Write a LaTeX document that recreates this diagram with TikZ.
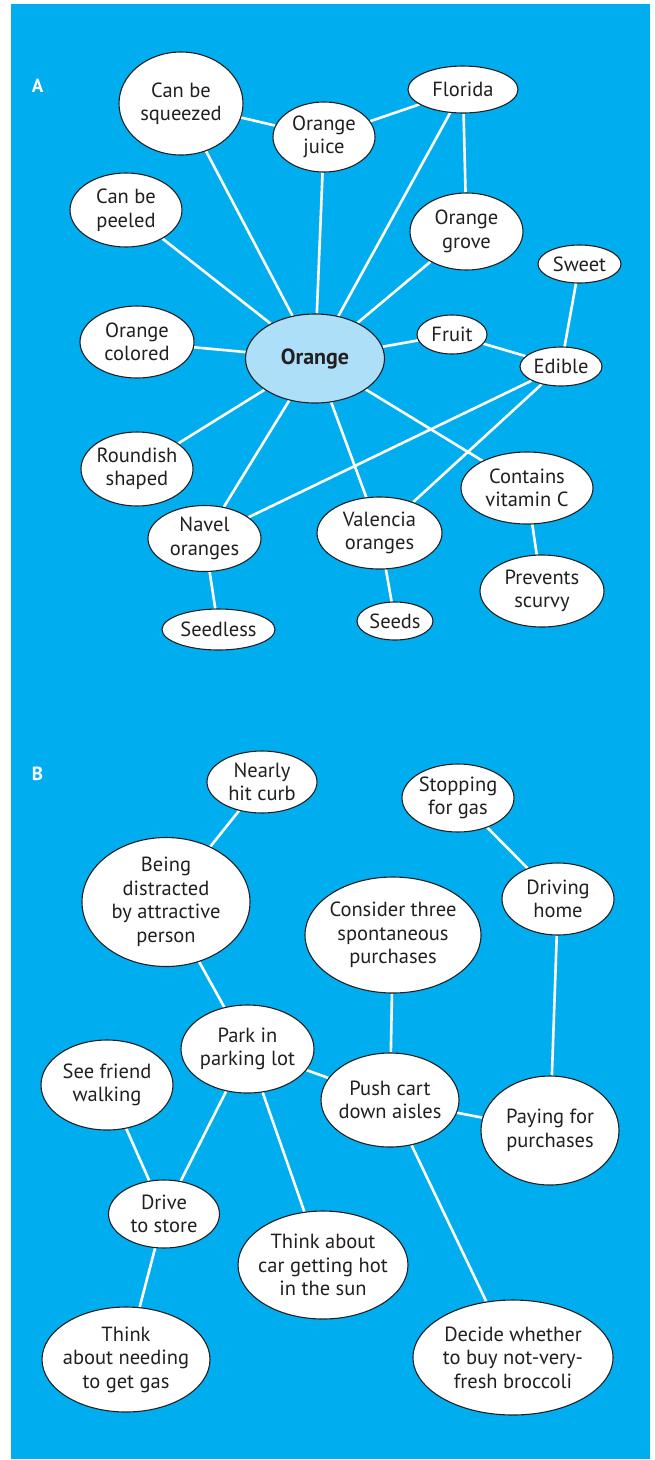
\documentclass[tikz,border=0pt]{standalone}
\usepackage{fontspec}
\setmainfont{PT Sans}
\usetikzlibrary{shapes.geometric,backgrounds}
\definecolor{sky}{HTML}{00AEEF}
\definecolor{pale}{HTML}{AEDFF8}
\definecolor{ink}{HTML}{231F20}
\tikzset{
  txt/.style={align=center, inner sep=0pt, text=ink,
    font=\fontsize{20.5}{23.5}\selectfont},
  bub/.style n args={3}{ellipse, draw=ink, line width=1.1pt, fill=white,
    minimum width=2*#1, minimum height=2*#2, inner sep=0pt,
    label={[txt]center:#3}},
  link/.style={draw=white, line width=2.6pt},
  panel/.style={text=white, inner sep=0pt,
    font=\fontsize{19}{19}\selectfont\bfseries},
}
\begin{document}
\begin{tikzpicture}[x=1pt, y=-1pt]
\useasboundingbox (0,0) rectangle (655,1460);
\begin{pgfonlayer}{background}
  \fill[sky] (11,4) rectangle (650,1459);
\end{pgfonlayer}

% ---------- panel A: the concept "Orange" ----------
\node[panel] (labA) at (37.5,86) {A};

\node[bub={62}{51.5}{Can be\\squeezed}] (sq) at (181,103.5) {};
\node[bub={51}{35}{Orange\\juice}] (oj) at (324,137) {};
\node[bub={55}{23.5}{Florida}] (fl) at (463,89.5) {};
\node[bub={56}{37}{Can be\\peeled}] (pe) at (126,210) {};
\node[bub={56.5}{38.5}{Orange\\grove}] (gr) at (466.5,231.5) {};
\node[bub={41.5}{19}{Sweet}] (sw) at (579.5,264) {};
\node[bub={57}{36}{Orange\\colored}] (oc) at (137,342) {};
\node[ellipse, draw=ink, line width=1.1pt, fill=pale, minimum width=139,
  minimum height=89, inner sep=0pt, text=ink,
  font=\fontsize{22}{22}\selectfont\bfseries] (or) at (315,358.5) {Orange};
\node[bub={35}{19.5}{Fruit}] (fr) at (452,334.5) {};
\node[bub={41}{19.5}{Edible}] (ed) at (561,366.5) {};
\node[bub={56}{37}{Roundish\\shaped}] (ro) at (137,469) {};
\node[bub={66}{36}{Contains\\vitamin C}] (vc) at (527,488) {};
\node[bub={56.5}{33}{Navel\\oranges}] (na) at (204.5,538.5) {};
\node[bub={62.5}{36}{Valencia\\oranges}] (va) at (379.5,533) {};
\node[bub={62}{36}{Prevents\\scurvy}] (ps) at (542,591) {};
\node[bub={56.5}{20.5}{Seedless}] (sl) at (218.5,629.5) {};
\node[bub={38}{19}{Seeds}] (se) at (395,621) {};

\begin{pgfonlayer}{background}
  \foreach \t in {sq,oj,fl,pe,gr,oc,fr,ro,na,va,vc}
    \path[link] (or) -- (\t);
  \path[link] (sq) -- (oj);
  \path[link] (oj) -- (fl);
  \path[link] (fl) -- (gr);
  \path[link] (fr) -- (ed);
  \path[link] (sw) -- (ed);
  \path[link] (ed) -- (na);
  \path[link] (ed) -- (va);
  \path[link] (vc) -- (ps);
  \path[link] (na) -- (sl);
  \path[link] (va) -- (se);
\end{pgfonlayer}

% ---------- panel B: a trip to the store ----------
\node[panel] (labB) at (37.5,774) {B};

\node[bub={55}{31}{Nearly\\hit curb}] (nh) at (262,782) {};
\node[bub={56}{34}{Stopping\\for gas}] (sg) at (458,798) {};
\node[bub={84}{64.5}{Being\\distracted\\by attractive\\person}] (bd) at (166,902) {};
\node[bub={56}{36}{Driving\\home}] (dh) at (558,899) {};
\node[bub={88}{58}{Consider three\\spontaneous\\purchases}] (ct) at (393,935) {};
\node[bub={66.5}{44}{Park in\\parking lot}] (pk) at (247.5,1049) {};
\node[bub={66}{45}{See friend\\walking}] (sf) at (107,1085) {};
\node[bub={69}{47}{Push cart\\down aisles}] (pc) at (390,1100) {};
\node[bub={69}{54.5}{Paying for\\purchases}] (pp) at (550,1130.5) {};
\node[bub={55.5}{34}{Drive\\to store}] (ds) at (164,1214) {};
\node[bub={85}{54}{Think about\\car getting hot\\in the sun}] (tc) at (323,1265) {};
\node[bub={84}{52.5}{Think\\about needing\\to get gas}] (tg) at (126,1359.5) {};
\node[bub={100}{57.5}{Decide whether\\to buy not-very-\\fresh broccoli}] (dw) at (513,1357.5) {};

\begin{pgfonlayer}{background}
  \path[link] (nh) -- (bd);
  \path[link] (sg) -- (dh);
  \path[link] (dh) -- (pp);
  \path[link] (bd) -- (pk);
  \path[link] (ct) -- (pc);
  \path[link] (pk) -- (pc);
  \path[link] (pc) -- (pp);
  \path[link] (pc) -- (dw);
  \path[link] (pk) -- (ds);
  \path[link] (pk) -- (tc);
  \path[link] (sf) -- (ds);
  \path[link] (ds) -- (tg);
\end{pgfonlayer}
\end{tikzpicture}
\end{document}
